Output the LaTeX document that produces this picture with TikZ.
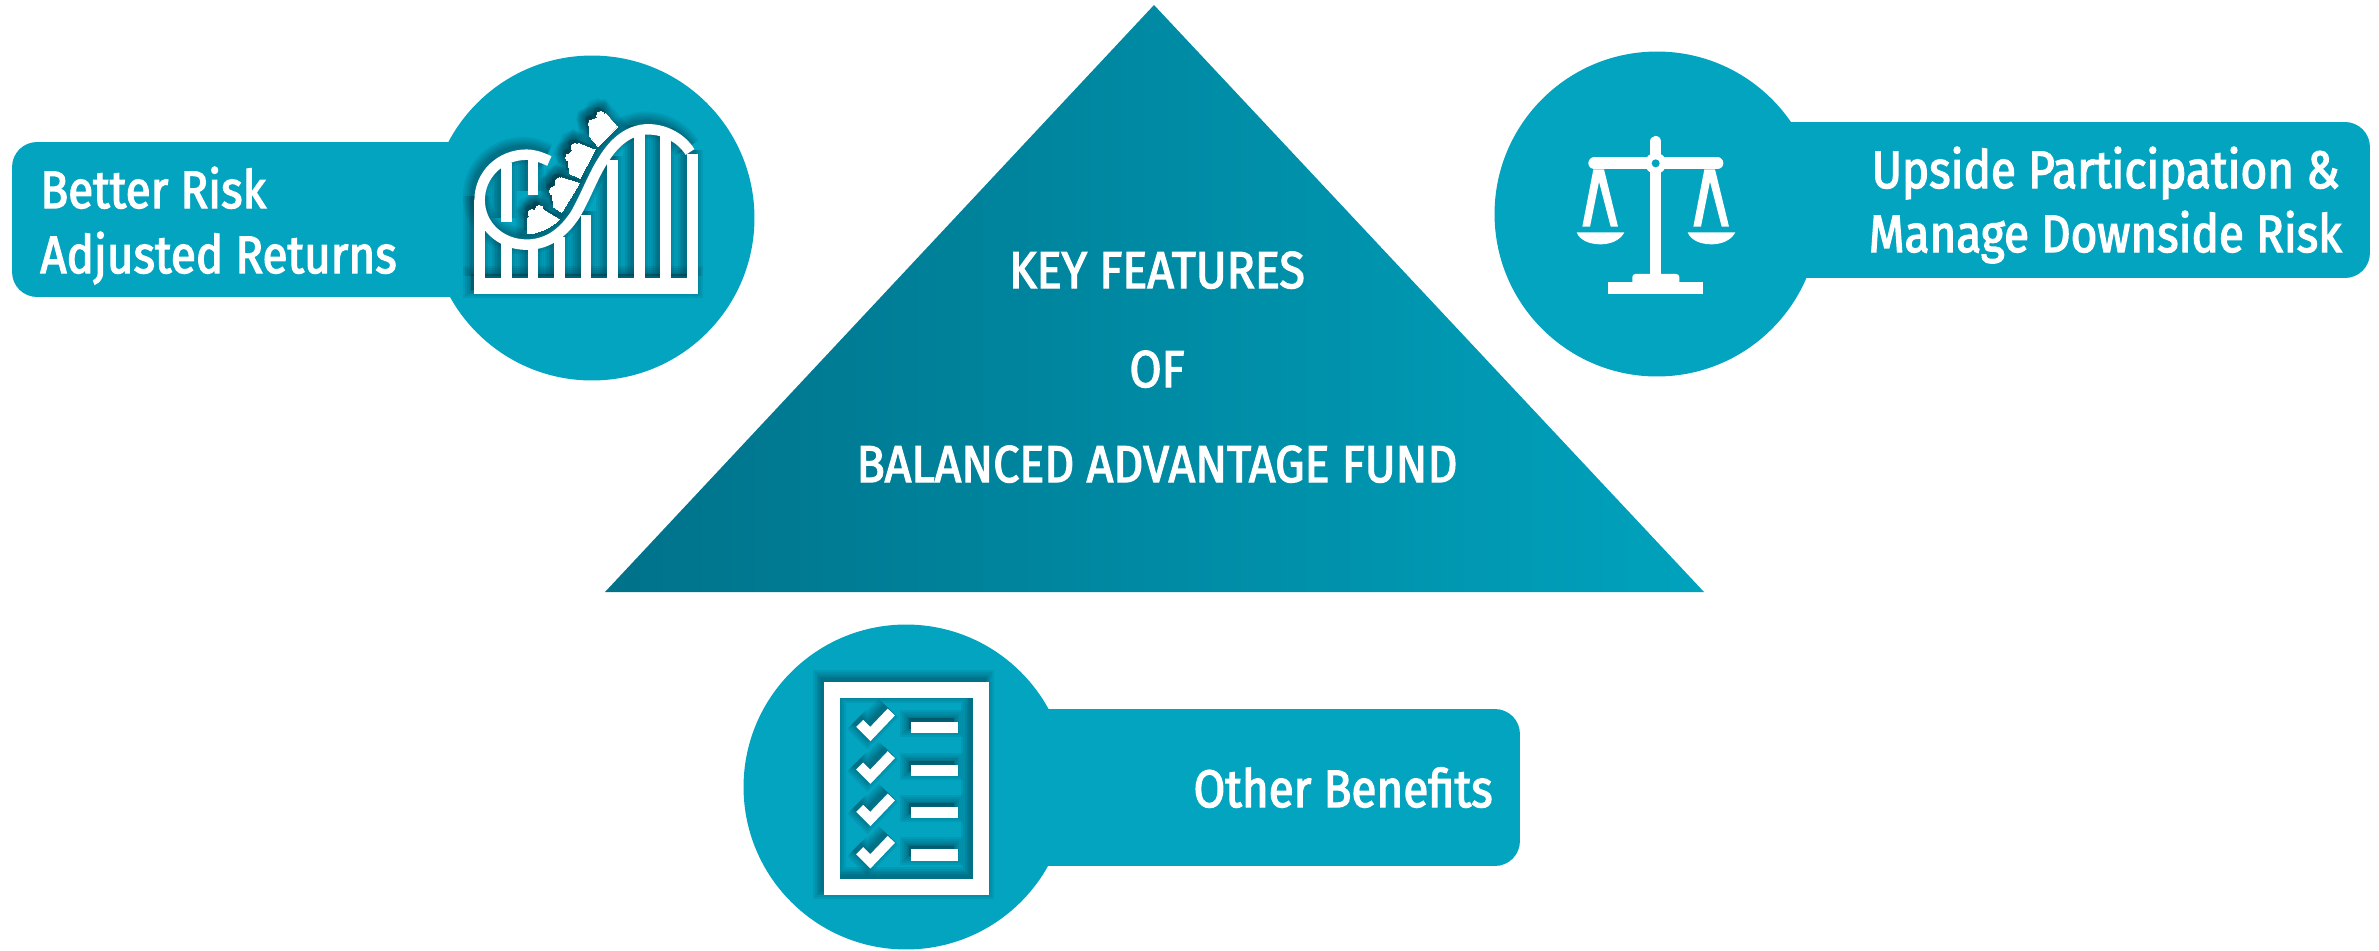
\documentclass[tikz,border=0pt]{standalone}
\usepackage{fontspec}
\setmainfont{Fira Sans}
\newfontfamily\tagfont{Fira Sans}[FakeStretch=0.87,FakeBold=2.5]
\newfontfamily\titlefont{Fira Sans}[FakeStretch=0.9,FakeBold=2.5]
\usepackage{tikz}
\usetikzlibrary{positioning}
\definecolor{tagteal}{HTML}{03A4C0}
\definecolor{tridark}{HTML}{00728A}
\definecolor{trilight}{HTML}{00A2BD}
\definecolor{castteal}{HTML}{00404F}
\newcommand{\coastershape}[1]{
  \path[iconpart, line width = 0.21cm + #1] (328,243) .. controls (300,230) and (280,224) .. (260,224)
    .. controls (180,224) and (119,285) .. (119,360) .. controls (119,435) and (180,494) .. (260,494)
    .. controls (330,494) and (375,450) .. (405,405) .. controls (435,355) and (460,285) .. (490,240)
    .. controls (520,190) and (565,148) .. (625,148) .. controls (675,148) and (725,175) .. (750,216);
  \foreach \px/\ptop/\pbot in {119/360/600, 199/490/600, 279/494/600, 359/470/600, 438/405/600,
    518/240/600, 598/148/600, 677/155/600, 757/222/600, 199/250/425, 279/235/345}
    \path[iconpart, line width = 0.21cm + #1] (\px,\ptop) -- (\px,\pbot);
  \path[iconfill, line width = #1] (103,595) rectangle (773,642);
  \foreach \kx/\ky in {276/400, 298/388, 340/333, 357/306, 389/233, 405/202, 457/131, 482/106}
    \path[iconfill, line width = #1] (\kx,\ky) circle (12);
  \path[iconfill, line width = #1] (262,462) -- (262,415) -- (298,382) -- (358,418) .. controls (330,445) and (295,460) .. (262,462) -- cycle;
  \path[iconfill, line width = #1] (365,397) -- (340,380) -- (337,325) -- (365,293) -- (418,310) -- cycle;
  \path[iconfill, line width = #1] (420,295) -- (388,280) -- (385,225) -- (415,190) -- (465,210) -- cycle;
  \path[iconfill, line width = #1] (475,200) -- (450,170) -- (447,125) -- (498,100) -- (532,140) -- cycle;
}
\newcommand{\listshape}[1]{
  \path[iconpart, line width = 0.32cm + #1] (96,61) rectangle (542,651);
  \foreach \dy in {0,128,255,382} {
    \path[iconpart, line width = 0.2cm + #1] (179,160+\dy) -- (211,192+\dy) -- (274,126+\dy);
    \path[iconfill, line width = #1] (335,157+\dy) rectangle (471,188+\dy);
  }
}
\begin{document}
\begin{tikzpicture}[x = 0.02cm, y = -0.02cm,
tag/.style ={fill = tagteal, rounded corners = 0.5cm, inner sep = 0pt, outer sep = 0pt},
badge/.style ={circle, fill = tagteal, inner sep = 0pt, outer sep = 0pt, minimum size = 6.5cm},
tagtext/.style ={text = white, inner sep = 0pt, font = \tagfont\fontsize{30}{32}\selectfont},
titletext/.style ={text = white, inner sep = 0pt, anchor = base, font = \titlefont\fontsize{29.5}{32}\selectfont},
iconpart/.style ={draw = iconcolor},
iconfill/.style ={draw = iconcolor, fill = iconcolor}]
\useasboundingbox (0,0) rectangle (2379,950);

\path[left color = tridark, right color = trilight] (1154,5) -- (1704,592) -- (605,592) -- cycle;

\node[tag, minimum width = 9.8cm, minimum height = 3.1cm] (risktag) at (257,219.5) {};
\node[tag, minimum width = 13.4cm, minimum height = 3.12cm] (upsidetag) at (2035,200) {};
\node[tag, minimum width = 10.4cm, minimum height = 3.14cm] (othertag) at (1260,787.5) {};
\node[badge] (riskbadge) at (592,218) {};
\node[badge] (upsidebadge) at (1657,214) {};
\node[badge] (otherbadge) at (906,787) {};

\colorlet{iconcolor}{castteal}
\foreach \grow in {0.34cm,0.26cm,0.18cm,0.11cm,0.05cm,0.01cm} {
  \begin{scope}[shift = {(437,76)}, x = 0.00667cm, y = -0.00667cm, opacity = 0.1]
    \coastershape{\grow}
  \end{scope}
  \begin{scope}[shift = {(797,666)}, x = 0.00667cm, y = -0.00667cm, opacity = 0.1]
    \listshape{\grow}
  \end{scope}
}
\colorlet{iconcolor}{white}
\begin{scope}[shift = {(440,80)}, x = 0.00667cm, y = -0.00667cm]
  \coastershape{0cm}
\end{scope}
\begin{scope}[shift = {(800,670)}, x = 0.00667cm, y = -0.00667cm]
  \listshape{0cm}
\end{scope}

\begin{scope}[shift = {(1540,110)}, x = 0.00667cm, y = -0.00667cm, white]
  \draw[line width = 0.23cm, line cap = round] (347,95) -- (347,300);
  \draw[line width = 0.23cm] (347,300) -- (347,500);
  \draw[line width = 0.24cm, line cap = round] (163,160) -- (532,160);
  \fill (347,160) circle (32);
  \fill[tagteal] (347,160) circle (12);
  \foreach \dx in {0,333} {
    \fill (160+\dx,178) -- (127+\dx,350) -- (150+\dx,350) -- (177+\dx,215) -- (212+\dx,350) -- (234+\dx,350) -- (192+\dx,178) -- cycle;
    \fill (110+\dx,367) -- (253+\dx,367) .. controls (240+\dx,392) and (210+\dx,403) .. (182+\dx,403) .. controls (150+\dx,403) and (120+\dx,392) .. (110+\dx,367) -- cycle;
  }
  \fill (205,516) rectangle (490,551);
  \fill[rounded corners = 0.06cm] (277,530) -- (277,492) -- (418,492) -- (418,530) -- cycle;
\end{scope}

\node[tagtext, anchor = base west] (riskone) at (40,208) {Better Risk};
\node[tagtext, anchor = base west] (risktwo) at (40,273) {Adjusted Returns};
\node[tagtext, anchor = base east] (upsideone) at (2340,188) {Upside Participation \&};
\node[tagtext, anchor = base east] (upsidetwo) at (2342,252) {Manage Downside Risk};
\node[tagtext, anchor = base east] (otherone) at (1493,807) {Other Benefits};
\node[titletext] (keyline) at (1157,288) {KEY FEATURES};
\node[titletext] (ofline) at (1157,387) {OF};
\node[titletext] (fundline) at (1157,482) {BALANCED ADVANTAGE FUND};
\end{tikzpicture}
\end{document}
